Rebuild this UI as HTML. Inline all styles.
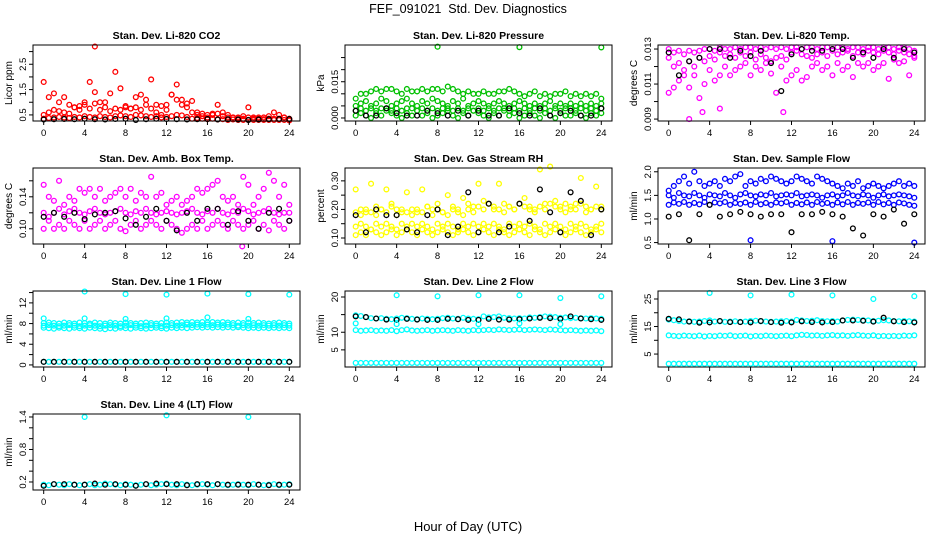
<!DOCTYPE html>
<html><head><meta charset="utf-8"><style>
body{margin:0;background:#fff;}
svg{display:block;font-family:"Liberation Sans",sans-serif;}
</style></head><body>
<svg id="c" width="936" height="540" viewBox="0 0 936 540" xmlns="http://www.w3.org/2000/svg">
<text x="468" y="13" font-size="12.5" text-anchor="middle" style="white-space:pre">FEF_091021  Std. Dev. Diagnostics</text>
<text x="468" y="531" font-size="13" text-anchor="middle">Hour of Day (UTC)</text>
</svg>
<script>
// ---- data (values at 0.5 h steps for dense layers, hourly for black series) ----
const xTicks=[0,4,8,12,16,20,24];
const co2Lo=[0.35,0.38,0.4,0.42,0.4,0.38,0.42,0.4,0.45,0.42,0.4,0.45,0.42,0.4,0.45,0.48,0.45,0.42,0.5,0.48,0.45,0.42,0.45,0.4,0.42,0.45,0.5,0.48,0.42,0.35,0.38,0.35,0.33,0.35,0.32,0.33,0.3,0.32,0.3,0.3,0.3,0.3,0.3,0.3,0.3,0.3,0.3,0.3,0.28];
const co2Mid=[0.5,0.6,0.7,0.65,0.6,0.55,0.8,0.7,0.9,0.75,0.95,0.7,0.8,0.65,0.75,0.7,0.85,0.75,0.8,0.7,0.9,0.75,0.6,0.5,0.7,1.3,1.1,0.9,0.8,0.6,0.5,0.45,0.4,0.5,0.55,0.45,0.4,0.4,0.38,0.35,0.4,0.35,0.35,0.33,0.35,0.35,0.35,0.4,0.3];
const co2Hi=[1.8,1.2,1.35,1.0,1.2,0.9,0.8,0.85,1.0,1.8,1.4,1.0,1.0,1.35,2.2,1.55,0.8,0.75,1.2,1.3,1.1,1.9,0.9,0.85,0.9,1.3,1.7,1.1,0.95,1.05,0.6,0.55,0.5,0.55,0.9,0.6,0.5,0.4,0.4,0.45,0.8,0.4,0.4,0.4,0.45,0.6,0.5,0.4,0.35];
const co2Blk=[0.32,0.33,0.34,0.33,0.35,0.33,0.32,0.34,0.35,0.3,0.33,0.35,0.34,0.33,0.32,0.33,0.34,0.32,0.33,0.32,0.3,0.32,0.33,0.34,0.34];
const co2OutH=[5], co2OutV=[3.2];
const prLo=[1,2,1,0,2,1,3,2,1,0,2,1,3,1,2,0,1,2,3,1,0,2,1,3,2,1,0,2,1,3,1,2,0,1,2,1,0,2,1,0,2,1,1,2,1,0,2,1,2];
const prM2=[3,4,3,4,3,4,4,3,4,3,4,4,3,4,3,4,3,4,4,3,4,3,4,3,4,3,4,3,4,4,3,4,3,4,3,4,3,4,3,4,3,4,4,3,4,3,4,3,4];
const prMid=[5,6,7,5,6,8,7,5,6,7,8,6,5,7,6,8,7,6,5,7,6,8,5,6,7,6,5,6,7,6,5,6,7,6,5,6,5,6,7,5,6,5,6,5,6,5,6,5,6];
const prHi=[8,10,10,11,12,11,12,12,11,10,12,11,11,12,11,12,12,11,13,12,11,10,11,10,10,11,10,10,11,11,12,11,10,9,10,11,9,10,9,10,10,11,9,10,9,10,9,10,8];
const prBlk=[3,1,1,4,2,1,1,3,2,1,3,1,3,1,1,4,2,1,4,1,2,3,1,1,4];
const prOutH=[8,16,24], prOutV=[29.5,29.3,29.2];
const tmLo=[10.5,10.8,11.2,11.5,10.8,11.5,10.2,11.0,11.8,11.2,11.5,12.0,11.5,11.8,12.0,12.2,11.5,12.0,11.8,12.2,11.6,10.5,12.0,11.2,11.5,11.8,11.2,11.4,12.0,12.2,11.8,12.0,11.5,12.2,11.8,12.0,11.4,12.2,12.0,12.2,11.8,12.0,12.2,11.3,12.4,12.2,12.3,11.5,12.5];
const tmMid=[12.5,12.0,12.2,11.8,12.3,12.0,12.5,12.3,12.6,12.4,12.8,12.6,12.7,12.5,12.8,12.6,12.8,12.4,12.7,12.5,12.3,12.5,12.6,12.4,12.8,12.9,12.7,12.6,12.5,12.7,12.8,12.6,12.9,12.7,12.8,12.9,12.6,12.8,12.7,12.9,12.8,12.7,12.9,12.8,12.7,12.9,12.8,12.7,12.6];
const tmHi=[13.0,12.8,12.9,12.7,12.9,12.8,12.9,13.0,13.0,12.9,13.1,13.0,13.0,13.1,13.0,13.1,13.1,13.0,13.1,13.0,13.1,13.0,13.1,13.0,13.1,13.1,13.0,13.1,13.1,13.0,13.1,13.1,13.0,13.1,13.1,13.0,13.1,13.1,13.0,13.1,13.1,13.0,13.1,13.1,13.0,13.1,13.1,13.0,12.9];
const tmBlk=[12.8,11.5,12.3,12.5,13.0,13.0,12.5,12.9,12.6,12.9,12.2,10.6,12.7,13.0,12.9,12.9,13.0,13.0,12.5,12.8,12.5,13.0,12.5,13.0,12.8];
const tmOutH=[2,3.3,11.2,5], tmOutV=[9.0,9.4,9.4,9.6];
const abLo=[0.10,0.11,0.10,0.105,0.10,0.11,0.105,0.10,0.11,0.10,0.105,0.11,0.10,0.105,0.11,0.10,0.097,0.105,0.11,0.10,0.105,0.11,0.105,0.10,0.11,0.105,0.10,0.095,0.10,0.105,0.10,0.11,0.10,0.105,0.11,0.105,0.10,0.11,0.105,0.10,0.105,0.11,0.10,0.105,0.098,0.11,0.105,0.10,0.11];
const abMid=[0.12,0.115,0.12,0.125,0.118,0.122,0.125,0.12,0.118,0.122,0.125,0.12,0.118,0.12,0.122,0.125,0.12,0.118,0.122,0.12,0.125,0.12,0.118,0.12,0.122,0.12,0.118,0.12,0.122,0.125,0.12,0.118,0.122,0.12,0.125,0.12,0.118,0.122,0.12,0.125,0.122,0.118,0.12,0.122,0.125,0.12,0.118,0.12,0.12];
const abHi=[0.155,0.14,0.135,0.16,0.13,0.14,0.135,0.15,0.145,0.15,0.14,0.15,0.135,0.14,0.145,0.15,0.14,0.15,0.135,0.145,0.14,0.165,0.14,0.145,0.13,0.135,0.14,0.13,0.135,0.14,0.15,0.145,0.15,0.155,0.16,0.14,0.135,0.14,0.13,0.165,0.155,0.13,0.14,0.15,0.17,0.16,0.14,0.155,0.13];
const abBlk=[0.115,0.12,0.115,0.12,0.112,0.118,0.12,0.122,0.113,0.105,0.115,0.125,0.11,0.098,0.12,0.11,0.125,0.125,0.105,0.122,0.11,0.10,0.12,0.125,0.11];
const abOutH=[19.4], abOutV=[0.078];
const rhLo=[0.11,0.12,0.11,0.13,0.12,0.11,0.12,0.13,0.11,0.12,0.13,0.12,0.11,0.13,0.12,0.11,0.12,0.13,0.12,0.11,0.12,0.13,0.12,0.11,0.12,0.13,0.12,0.11,0.13,0.12,0.11,0.12,0.13,0.12,0.11,0.13,0.12,0.11,0.12,0.13,0.12,0.11,0.12,0.13,0.12,0.11,0.12,0.13,0.12];
const rhMid=[0.14,0.15,0.14,0.13,0.15,0.14,0.15,0.14,0.13,0.15,0.14,0.15,0.14,0.15,0.14,0.13,0.15,0.14,0.15,0.14,0.13,0.15,0.14,0.15,0.14,0.15,0.14,0.15,0.14,0.13,0.15,0.14,0.15,0.14,0.15,0.14,0.13,0.15,0.14,0.15,0.14,0.13,0.15,0.14,0.15,0.14,0.13,0.14,0.15];
const rhM2=[0.19,0.18,0.2,0.19,0.18,0.2,0.19,0.21,0.18,0.2,0.19,0.18,0.2,0.19,0.21,0.18,0.2,0.19,0.18,0.2,0.19,0.18,0.2,0.19,0.21,0.2,0.22,0.21,0.2,0.19,0.21,0.2,0.22,0.21,0.2,0.19,0.21,0.2,0.22,0.21,0.2,0.19,0.21,0.2,0.22,0.19,0.2,0.21,0.2];
const rhHi=[0.27,0.2,0.19,0.29,0.21,0.2,0.27,0.22,0.2,0.19,0.26,0.2,0.19,0.27,0.21,0.2,0.22,0.19,0.25,0.21,0.2,0.24,0.22,0.21,0.29,0.23,0.22,0.2,0.29,0.22,0.21,0.2,0.22,0.24,0.21,0.2,0.34,0.22,0.35,0.23,0.21,0.22,0.2,0.22,0.31,0.21,0.2,0.28,0.21];
const rhBlk=[0.18,0.12,0.2,0.18,0.18,0.13,0.12,0.18,0.2,0.11,0.14,0.26,0.12,0.22,0.12,0.14,0.22,0.16,0.27,0.19,0.12,0.26,0.23,0.11,0.2];
const sfLo=[1.3,1.35,1.32,1.36,1.3,1.34,1.31,1.36,1.3,1.35,1.33,1.36,1.3,1.34,1.32,1.35,1.3,1.36,1.31,1.34,1.3,1.35,1.33,1.36,1.3,1.34,1.31,1.35,1.3,1.36,1.32,1.34,1.3,1.35,1.31,1.36,1.3,1.34,1.32,1.35,1.3,1.36,1.31,1.34,1.3,1.35,1.33,1.3,1.28];
const sfMid=[1.5,1.45,1.55,1.5,1.48,1.55,1.5,1.45,1.52,1.5,1.48,1.55,1.5,1.45,1.52,1.55,1.5,1.48,1.52,1.5,1.55,1.48,1.5,1.52,1.5,1.55,1.48,1.5,1.52,1.5,1.45,1.5,1.52,1.48,1.5,1.55,1.5,1.48,1.52,1.5,1.45,1.5,1.52,1.48,1.5,1.52,1.5,1.48,1.45];
const sfHi=[1.6,1.7,1.8,1.9,1.75,2.0,1.8,1.7,1.75,1.8,1.7,1.85,1.8,1.9,1.95,1.7,1.8,1.75,1.85,1.8,1.9,1.85,1.8,1.75,1.8,1.9,1.85,1.8,1.75,1.9,1.85,1.8,1.75,1.7,1.65,1.75,1.7,1.8,1.65,1.7,1.75,1.7,1.65,1.7,1.75,1.8,1.7,1.75,1.7];
const sfBlk=[1.05,1.1,0.55,1.1,1.3,1.05,1.1,1.15,1.1,1.05,1.1,1.1,0.72,1.1,1.1,1.15,1.1,1.05,0.8,0.65,1.1,1.05,1.2,0.9,1.1];
const sfOutH=[8,16,24], sfOutV=[0.55,0.53,0.5];
const l1Lo=[7.2,7.1,7.0,7.2,7.1,7.0,7.2,7.1,7.0,7.2,7.1,7.0,6.9,7.1,7.0,7.2,7.1,7.0,7.2,7.1,7.0,7.1,7.2,7.1,7.0,7.2,7.1,7.2,7.1,7.2,7.3,7.2,7.3,7.2,7.3,7.2,7.3,7.2,7.3,7.2,7.1,7.2,7.1,7.2,7.1,7.2,7.1,7.2,7.1];
const l1Mid=[7.6,7.7,7.6,7.5,7.6,7.7,7.6,7.5,7.6,7.7,7.6,7.5,7.6,7.7,7.6,7.5,7.6,7.7,7.6,7.5,7.6,7.7,7.6,7.5,7.6,7.7,7.6,7.7,7.8,7.7,7.8,7.7,7.8,7.7,7.8,7.7,7.8,7.7,7.6,7.7,7.6,7.7,7.6,7.7,7.6,7.7,7.6,7.7,7.6];
const l1Hi=[8.1,8.2,8.1,8.0,8.2,8.1,8.0,8.2,8.1,8.0,8.2,8.1,8.0,8.2,8.1,8.0,8.2,8.1,8.0,8.1,8.2,8.1,8.0,8.1,8.2,8.1,8.2,8.3,8.2,8.3,8.2,8.3,8.2,8.3,8.2,8.3,8.2,8.1,8.2,8.1,8.2,8.1,8.2,8.1,8.0,8.1,8.2,8.1,8.0];
const l1Bot=[0.6,0.6,0.6,0.6,0.6,0.6,0.6,0.6,0.6,0.6,0.6,0.6,0.6,0.6,0.6,0.6,0.6,0.6,0.6,0.6,0.6,0.6,0.6,0.6,0.6,0.6,0.6,0.6,0.6,0.6,0.6,0.6,0.6,0.6,0.6,0.6,0.6,0.6,0.6,0.6,0.6,0.6,0.6,0.6,0.6,0.6,0.6,0.6,0.6];
const l1Blk=[0.6,0.6,0.6,0.6,0.6,0.6,0.6,0.6,0.6,0.6,0.6,0.6,0.6,0.6,0.6,0.6,0.6,0.6,0.6,0.6,0.6,0.6,0.6,0.6,0.6];
const l1OutH=[4,8,12,16,20,24,0,4,8,12,16,20], l1OutV=[14.2,13.7,13.6,13.8,13.7,13.6,9.0,9.0,8.9,9.0,9.2,8.9];
const l2Top=[14.8,14.6,14.3,14.0,13.9,14.0,13.8,13.7,13.9,14.1,14.0,13.8,13.7,13.9,13.8,13.7,13.8,14.0,14.1,13.9,13.8,14.1,13.9,13.8,13.7,14.5,14.2,14.3,14.5,14.1,14.0,13.9,14.0,13.9,14.2,14.1,14.3,14.5,14.4,14.3,14.1,14.2,14.0,14.1,14.0,13.9,14.0,13.9,13.8];
const l2Mid=[10.6,10.4,10.5,10.6,10.4,10.5,10.4,10.6,10.3,10.6,10.8,10.5,10.4,10.5,10.6,10.4,10.5,10.6,10.5,10.4,10.6,10.5,10.4,10.6,10.5,10.6,10.7,10.6,10.8,10.7,10.6,10.7,10.8,10.6,10.7,10.8,10.7,10.6,10.8,10.7,10.6,10.5,10.6,10.5,10.4,10.5,10.4,10.5,10.3];
const l2Bot=[1.3,1.3,1.3,1.3,1.3,1.3,1.3,1.3,1.3,1.3,1.3,1.3,1.3,1.3,1.3,1.3,1.3,1.3,1.3,1.3,1.3,1.3,1.3,1.3,1.3,1.3,1.3,1.3,1.3,1.3,1.3,1.3,1.3,1.3,1.3,1.3,1.3,1.3,1.3,1.3,1.3,1.3,1.3,1.3,1.3,1.3,1.3,1.3,1.3];
const l2Blk=[14.5,14.3,13.9,13.6,13.5,13.8,13.6,13.5,13.5,13.8,13.7,13.5,13.5,13.8,13.6,13.6,13.7,13.9,14.1,14.0,13.8,14.5,13.9,13.7,13.5];
const l2OutH=[4,8,12,16,20,24,0,4,12,16,20], l2OutV=[20.5,20.2,20.5,20.5,19.7,20.2,12.5,12.3,12.3,12.5,12.3];
const l3Top=[17.5,17.3,17.0,16.8,16.9,16.7,16.8,17.0,17.2,16.8,16.9,16.7,16.8,16.9,16.7,16.8,17.0,17.1,16.9,16.8,16.7,16.8,16.9,17.0,16.8,17.4,17.2,17.0,17.1,17.3,17.0,16.9,17.0,16.8,17.2,17.4,17.5,17.4,17.3,17.2,17.0,17.1,17.3,17.2,17.0,16.9,17.0,16.9,16.8];
const l3Mid=[11.8,11.6,11.5,11.7,11.6,11.5,11.7,11.4,11.6,11.5,11.7,11.6,11.8,11.5,11.6,11.7,11.4,11.6,11.5,11.7,11.6,11.5,11.6,11.7,11.5,11.8,12.0,11.9,11.7,11.8,11.6,11.8,11.9,11.7,11.8,11.6,11.8,11.9,11.7,11.6,11.8,11.5,11.6,11.5,11.6,11.5,11.7,11.6,11.8];
const l3Bot=[1.5,1.5,1.5,1.5,1.5,1.5,1.5,1.5,1.5,1.5,1.5,1.5,1.5,1.5,1.5,1.5,1.5,1.5,1.5,1.5,1.5,1.5,1.5,1.5,1.5,1.5,1.5,1.5,1.5,1.5,1.5,1.5,1.5,1.5,1.5,1.5,1.5,1.5,1.5,1.5,1.5,1.5,1.5,1.5,1.5,1.5,1.5,1.5,1.5];
const l3Blk=[17.8,17.6,16.8,16.4,16.5,17.0,16.6,16.6,16.5,17.0,16.6,16.4,16.5,16.9,16.6,16.5,16.6,17.2,17.2,17.1,16.8,18.2,16.9,16.6,16.5];
const l3OutH=[4,8,12,16,20,24], l3OutV=[27.2,26.3,26.6,26.3,25.0,26.0];
const l4Band=[0.15,0.14,0.16,0.15,0.14,0.16,0.15,0.14,0.15,0.16,0.14,0.15,0.17,0.16,0.15,0.14,0.16,0.15,0.14,0.15,0.16,0.14,0.15,0.16,0.17,0.15,0.14,0.16,0.15,0.14,0.15,0.16,0.15,0.14,0.16,0.15,0.14,0.15,0.16,0.15,0.14,0.16,0.15,0.14,0.15,0.16,0.14,0.15,0.16];
const l4Blk=[0.13,0.16,0.16,0.15,0.15,0.17,0.15,0.16,0.15,0.13,0.16,0.17,0.16,0.16,0.14,0.16,0.16,0.16,0.15,0.15,0.15,0.15,0.14,0.15,0.15];
const l4OutH=[4,12,20], l4OutV=[1.4,1.43,1.4];

const halfHours=[]; for(let i=0;i<=48;i++) halfHours.push(i/2);
const hours=[]; for(let i=0;i<=24;i++) hours.push(i);

const NS="http://www.w3.org/2000/svg";
const svg=document.getElementById('c');
function el(tag,attrs,parent){const e=document.createElementNS(NS,tag);for(const k in attrs)e.setAttribute(k,attrs[k]);(parent||svg).appendChild(e);return e;}

const colX=[33,345,658], rowY=[45,168,291,414], BW=267, BH=76;
const M=0.001;
const panels=[
 {key:'co2',c:0,r:0,title:'Stan. Dev. Li-820 CO2',ylab:'Licor ppm',yr:[0.26,3.26],ticks:[0.5,1,1.5,2,2.5,3],labels:['0.5','','1.5','','2.5',''],col:'#ff0000',
  layers:[co2Lo,co2Mid,co2Hi],blk:co2Blk,outH:co2OutH,outV:co2OutV,sc:1},
 {key:'pressure',c:1,r:0,title:'Stan. Dev. Li-820 Pressure',ylab:'kPa',yr:[-0.00125,0.0302],ticks:[0,0.005,0.01,0.015,0.02,0.025],labels:['0.000','','','0.015','',''],col:'#00c000',
  layers:[prLo,prM2,prMid,prHi],blk:prBlk,outH:prOutH,outV:prOutV,sc:M},
 {key:'temp',c:2,r:0,title:'Stan. Dev. Li-820 Temp.',ylab:'degrees C',yr:[0.00889,0.01323],ticks:[0.009,0.010,0.011,0.012,0.013],labels:['0.009','','0.011','','0.013'],col:'#ff00ff',
  layers:[tmLo,tmMid,tmHi],blk:tmBlk,outH:tmOutH,outV:tmOutV,sc:M},
 {key:'ambbox',c:0,r:1,title:'Stan. Dev. Amb. Box Temp.',ylab:'degrees C',yr:[0.081,0.176],ticks:[0.10,0.12,0.14,0.16],labels:['0.10','','0.14',''],col:'#ff00ff',
  layers:[abLo,abMid,abHi],blk:abBlk,outH:abOutH,outV:abOutV,sc:1},
 {key:'rh',c:1,r:1,title:'Stan. Dev. Gas Stream RH',ylab:'percent',yr:[0.079,0.345],ticks:[0.10,0.15,0.20,0.25,0.30],labels:['0.10','','0.20','','0.30'],col:'#ffff00',
  layers:[rhLo,rhMid,rhM2,rhHi],blk:rhBlk,outH:[],outV:[],sc:1},
 {key:'sampleflow',c:2,r:1,title:'Stan. Dev. Sample Flow',ylab:'ml/min',yr:[0.47,2.08],ticks:[0.5,1,1.5,2],labels:['0.5','1.0','1.5','2.0'],col:'#0000ff',
  layers:[sfLo,sfMid,sfHi],blk:sfBlk,outH:sfOutH,outV:sfOutV,sc:1,outCol:'#0000ff'},
 {key:'line1',c:0,r:2,title:'Stan. Dev. Line 1 Flow',ylab:'ml/min',yr:[-0.4,14.3],ticks:[0,2,4,6,8,10,12,14],labels:['0','','4','','8','','12',''],col:'#00ffff',
  layers:[l1Bot,l1Lo,l1Mid,l1Hi],blk:l1Blk,outH:l1OutH,outV:l1OutV,sc:1},
 {key:'line2',c:1,r:2,title:'Stan. Dev. Line 2 Flow',ylab:'ml/min',yr:[0.14,21.7],ticks:[5,10,15,20],labels:['5','10','','20'],col:'#00ffff',
  layers:[l2Bot,l2Mid,l2Top],blk:l2Blk,outH:l2OutH,outV:l2OutV,sc:1},
 {key:'line3',c:2,r:2,title:'Stan. Dev. Line 3 Flow',ylab:'ml/min',yr:[0.3,27.9],ticks:[5,10,15,20,25],labels:['5','','15','','25'],col:'#00ffff',
  layers:[l3Bot,l3Mid,l3Top],blk:l3Blk,outH:l3OutH,outV:l3OutV,sc:1},
 {key:'line4',c:0,r:3,title:'Stan. Dev. Line 4 (LT) Flow',ylab:'ml/min',yr:[0.052,1.455],ticks:[0.2,0.4,0.6,0.8,1.0,1.2,1.4],labels:['0.2','','','0.8','','','1.4'],col:'#00ffff',
  layers:[l4Band],blk:l4Blk,outH:l4OutH,outV:l4OutV,sc:1},
];

panels.forEach(p=>{
  const L=colX[p.c], T=rowY[p.r];
  const g=el('g',{});
  
  
  const xs=h=>L+10.7+h*(BW-21.4)/24;
  const ys=v=>T+BH-(v-p.yr[0])/(p.yr[1]-p.yr[0])*BH;
  const t=el('text',{x:L+BW/2,y:T-6,'font-size':10.5,'font-weight':'bold','text-anchor':'middle'},g);
  t.textContent=p.title;
  
  
  const yl=el('text',{x:0,y:0,'font-size':10,'text-anchor':'middle',transform:`translate(${L-21},${T+BH/2}) rotate(-90)`},g);
  yl.textContent=p.ylab;
  
  
  const pts=el('g',{fill:'none','stroke-width':1.3},g);
  
  
  p.layers.forEach(arr=>{
    arr.forEach((v,i)=>{
      const c=el('circle',{cx:xs(halfHours[i]),cy:ys(v*p.sc),r:2.4,stroke:p.col},pts);
      
      
    });
  });
  p.blk.forEach((v,i)=>{
    const c=el('circle',{cx:xs(hours[i]),cy:ys(v*p.sc),r:2.4,stroke:'#000'},pts);
    
    
  });
  p.outH.forEach((h,i)=>{
    const c=el('circle',{cx:xs(h),cy:ys(p.outV[i]*p.sc),r:2.4,stroke:p.outCol||p.col},pts);
    
    
  });
  const b=el('rect',{x:L,y:T,width:BW,height:BH,fill:'none',stroke:'#000','stroke-width':1},g);
  
  
  p.ticks.forEach((v,i)=>{
    const y=ys(v);
    el('line',{x1:L-4,x2:L,y1:y,y2:y,stroke:'#000'},g);
    if(p.labels[i]){
      const tl=el('text',{x:0,y:0,'font-size':9.5,'text-anchor':'middle',transform:`translate(${L-7},${y}) rotate(-90)`},g);
      tl.textContent=p.labels[i];
      
      
    }
  });
  xTicks.forEach(h=>{
    const x=xs(h);
    el('line',{x1:x,x2:x,y1:T+BH,y2:T+BH+4,stroke:'#000'},g);
    const tl=el('text',{x:x,y:T+BH+15,'font-size':9.5,'text-anchor':'middle'},g);
    tl.textContent=h;
    
    
  });
});
</script>
</body></html>
